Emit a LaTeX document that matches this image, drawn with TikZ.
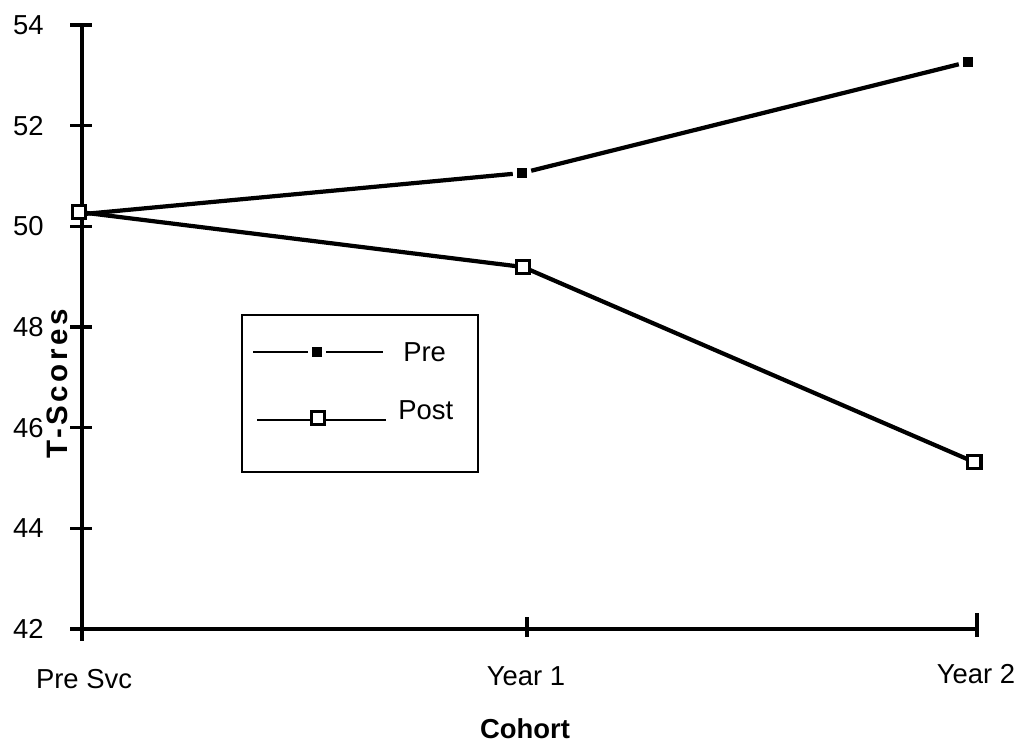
\documentclass[tikz,border=0pt]{standalone}
\usepackage{fontspec}
\setmainfont{Liberation Sans}
\usetikzlibrary{positioning}

\begin{document}
\begin{tikzpicture}[
    x=0.025cm, y=-0.025cm,
    font=\fontsize{19.5}{23}\selectfont,
    axis/.style={line width=2.2pt},
    series/.style={line width=3pt},
    premark/.style={rectangle, fill=black, minimum size=0.26cm, inner sep=0pt, outer sep=0.1cm},
    postmark/.style={rectangle, draw=black, fill=white, line width=2.4pt, minimum size=0.34cm, inner sep=0pt, outer sep=0pt},
    ticklab/.style={anchor=east, inner sep=0pt},
    catlab/.style={anchor=base, inner sep=0pt}
]
\useasboundingbox (0,0) rectangle (1019,743);

% Axes
\coordinate (ytop) at (82,25);
\coordinate (ybot) at (82,641);
\coordinate (xleft) at (74,629);
\coordinate (xright) at (977,629);
\draw[axis] (ytop) -- (ybot);
\draw[axis] (xleft) -- (xright);

% Y ticks and labels
\foreach \v in {42,44,...,54} {
  \pgfmathsetmacro{\ypos}{25+(54-\v)*50.33}
  \draw[axis] (70,\ypos) -- (92,\ypos);
  \node[ticklab] (t\v) at (44,\ypos) {\v};
}

% X ticks
\draw[axis] (527,617) -- (527,637);
\draw[axis] (977,613) -- (977,637);

% Category labels
\node[catlab] (cPre) at (84,688) {Pre Svc};
\node[catlab] (cY1) at (526,685) {Year 1};
\node[catlab] (cY2) at (976,683) {Year 2};

% Axis titles
\node[font=\fontsize{21}{24}\bfseries\selectfont\addfontfeatures{LetterSpace=12}, rotate=90] (ytitle) at (57,384) {T-Scores};
\node[catlab, font=\fontsize{19.5}{23}\bfseries\selectfont] (xtitle) at (525,738) {Cohort};

% Pre series
\coordinate (pre0) at (84,214);
\node[premark] (pre1) at (522,173) {};
\node[premark] (pre2) at (968,62) {};
\draw[series] (pre0) -- (pre1) -- (pre2);

% Post series
\coordinate (p0) at (79,212);
\coordinate (p1) at (523,267);
\coordinate (p2) at (974,462);
\draw[series] (p0) -- (p1) -- (p2);
\node[postmark] (post0) at (p0) {};
\node[postmark] (post1) at (p1) {};
\node[postmark] (post2) at (p2) {};

% Legend
\draw[line width=2pt] (242,315) rectangle (478,472);
\coordinate (lpa) at (253,352);
\coordinate (lpb) at (383,352);
\node[premark] (lpm) at (317,352) {};
\draw[line width=2pt] (lpa) -- (lpm) -- (lpb);
\node[anchor=west, inner sep=0pt] (lpre) at (403,352) {Pre};
\coordinate (lqa) at (257,420);
\coordinate (lqb) at (386,420);
\draw[line width=2pt] (lqa) -- (lqb);
\node[postmark] (lqm) at (318,418) {};
\node[anchor=west, inner sep=0pt] (lpost) at (398,410) {Post};

\end{tikzpicture}
\end{document}
